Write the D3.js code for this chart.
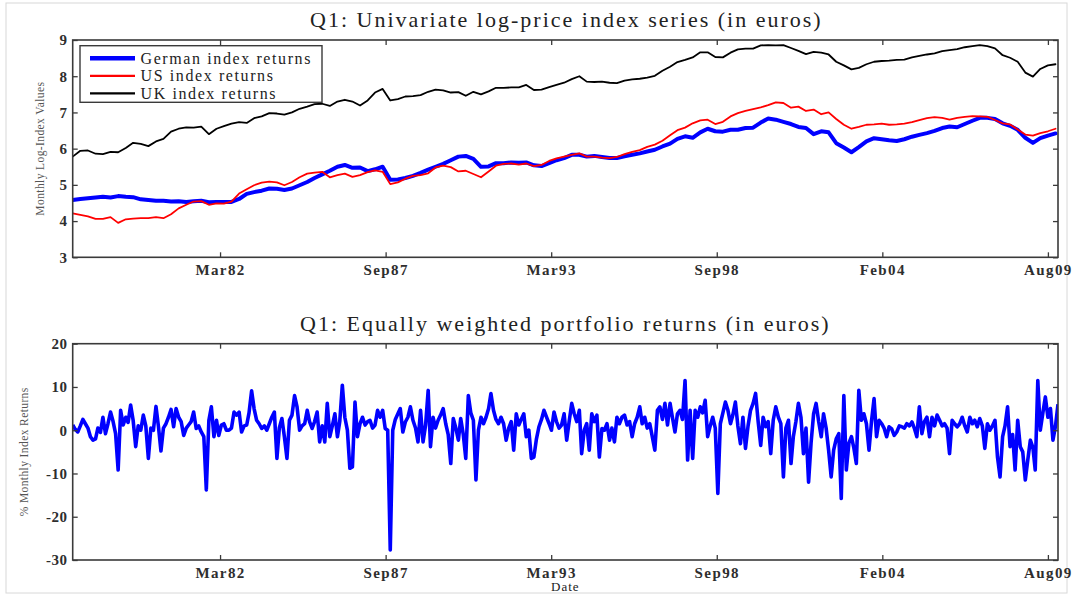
<!DOCTYPE html>
<html>
<head>
<meta charset="utf-8">
<script src="https://cdn.jsdelivr.net/npm/d3@7"></script>
<style>
  html, body { margin: 0; padding: 0; background: #fff; }
  svg { display: block; }
  text { font-family: "Liberation Serif", "DejaVu Serif", serif; }
</style>
</head>
<body>
<svg id="chart" width="1073" height="595"></svg>
<script>
// Monthly series start in May 1977 (mid-month dates)
const seriesStart = new Date(1977, 4, 15);
const seriesEnd = new Date(2009, 11, 15);

// Log-price index levels, sampled every 3 months from May 1977
const germanLog = [
  4.58, 4.61, 4.63, 4.65, 4.67, 4.65, 4.69, 4.67, 4.66, 4.60, 4.58, 4.56,
  4.56, 4.54, 4.55, 4.53, 4.55, 4.56, 4.52, 4.53, 4.53, 4.53, 4.61, 4.75,
  4.80, 4.84, 4.90, 4.89, 4.86, 4.90, 4.99, 5.08, 5.19, 5.29, 5.39, 5.50,
  5.55, 5.47, 5.48, 5.38, 5.43, 5.50, 5.14, 5.15, 5.19, 5.25, 5.33, 5.42,
  5.50, 5.58, 5.68, 5.78, 5.80, 5.72, 5.50, 5.51, 5.60, 5.60, 5.62, 5.61,
  5.62, 5.54, 5.52, 5.60, 5.68, 5.74, 5.83, 5.83, 5.78, 5.80, 5.77, 5.74,
  5.74, 5.79, 5.83, 5.87, 5.92, 5.97, 6.06, 6.14, 6.27, 6.34, 6.30, 6.45,
  6.55, 6.48, 6.47, 6.52, 6.52, 6.57, 6.58, 6.72, 6.83, 6.80, 6.74, 6.68,
  6.60, 6.57, 6.40, 6.48, 6.45, 6.15, 6.03, 5.90, 6.04, 6.20, 6.29, 6.26,
  6.23, 6.21, 6.26, 6.33, 6.38, 6.43, 6.49, 6.57, 6.61, 6.59, 6.68, 6.77,
  6.85, 6.85, 6.82, 6.70, 6.63, 6.52, 6.30, 6.16, 6.29, 6.36, 6.42
];
const usLog = [
  4.21, 4.17, 4.13, 4.06, 4.06, 4.11, 3.95, 4.05, 4.07, 4.08, 4.08, 4.11,
  4.08, 4.19, 4.35, 4.45, 4.54, 4.55, 4.45, 4.49, 4.48, 4.54, 4.76, 4.88,
  4.99, 5.06, 5.09, 5.07, 4.99, 5.08, 5.21, 5.31, 5.34, 5.36, 5.21, 5.27,
  5.31, 5.22, 5.27, 5.35, 5.40, 5.36, 5.02, 5.07, 5.17, 5.25, 5.27, 5.32,
  5.48, 5.53, 5.49, 5.37, 5.39, 5.30, 5.21, 5.37, 5.53, 5.58, 5.59, 5.56,
  5.59, 5.52, 5.55, 5.66, 5.73, 5.78, 5.83, 5.87, 5.78, 5.78, 5.75, 5.74,
  5.77, 5.85, 5.91, 5.96, 6.05, 6.11, 6.22, 6.37, 6.51, 6.58, 6.70, 6.78,
  6.80, 6.68, 6.74, 6.89, 6.98, 7.04, 7.09, 7.14, 7.20, 7.28, 7.26, 7.13,
  7.16, 7.04, 7.08, 6.95, 7.00, 6.82, 6.66, 6.55, 6.60, 6.66, 6.67, 6.69,
  6.66, 6.67, 6.69, 6.73, 6.79, 6.84, 6.87, 6.85, 6.80, 6.85, 6.88, 6.90,
  6.89, 6.88, 6.79, 6.70, 6.67, 6.53, 6.39, 6.36, 6.43, 6.48, 6.55
];
const ukLog = [
  5.78, 5.94, 5.95, 5.86, 5.85, 5.91, 5.90, 6.02, 6.16, 6.13, 6.07, 6.20,
  6.27, 6.47, 6.55, 6.59, 6.58, 6.61, 6.40, 6.55, 6.62, 6.69, 6.73, 6.71,
  6.84, 6.89, 6.98, 6.97, 6.94, 7.00, 7.10, 7.16, 7.23, 7.24, 7.18, 7.30,
  7.35, 7.30, 7.19, 7.33, 7.55, 7.65, 7.33, 7.37, 7.44, 7.45, 7.48, 7.57,
  7.63, 7.61, 7.55, 7.56, 7.46, 7.57, 7.50, 7.58, 7.68, 7.68, 7.69, 7.69,
  7.76, 7.62, 7.63, 7.70, 7.76, 7.82, 7.92, 8.00, 7.85, 7.84, 7.85, 7.82,
  7.81, 7.88, 7.91, 7.93, 7.96, 8.01, 8.15, 8.26, 8.39, 8.45, 8.52, 8.66,
  8.66, 8.53, 8.52, 8.65, 8.74, 8.76, 8.76, 8.85, 8.86, 8.85, 8.86, 8.78,
  8.70, 8.61, 8.67, 8.65, 8.60, 8.40, 8.30, 8.19, 8.23, 8.33, 8.40, 8.42,
  8.43, 8.45, 8.46, 8.52, 8.56, 8.60, 8.63, 8.69, 8.72, 8.75, 8.80, 8.83,
  8.86, 8.83, 8.77, 8.58, 8.51, 8.40, 8.10, 7.99, 8.20, 8.30, 8.33
];

// Equally weighted portfolio returns (%), one value per month from May 1977
const portfolioReturns = [
  1.2, 0.2, -0.4, 1.0, 2.5, 1.5, 0.5, -1.5, -2.3, -2.0, 0.5, -0.5,
  3.0, -0.8, 1.5, 4.2, 2.0, -0.8, -9.2, 4.6, 1.2, 3.0, 1.8, 5.8,
  2.3, -3.8, 1.0, 0.0, 3.5, 1.0, -6.5, 0.5, 0.0, 5.5, 1.0, -4.8,
  0.5, 1.5, 3.0, 4.8, 0.8, 5.0, 3.0, 2.0, -1.2, 0.5, 1.2, 2.0,
  4.2, 0.4, 1.0, -0.4, -1.5, -13.8, 2.3, 5.4, -1.5, 2.3, -1.2, 1.2,
  1.5, 0.0, 0.0, 0.5, 4.2, 3.5, 4.2, -0.4, 1.0, 1.2, 4.0, 9.1,
  5.0, 2.3, 1.5, 0.4, 1.0, 0.0, 1.5, 3.0, 4.2, -6.5, 0.5, 2.7,
  -1.5, -6.5, 2.3, 3.5, 8.0, 5.4, 0.0, 1.0, 1.5, 4.6, 2.0, 0.4,
  2.0, 4.2, -2.7, 1.0, -2.7, 6.2, -1.5, 1.0, 3.8, -1.5, 2.0, 10.4,
  3.0, 0.0, -8.8, -8.5, 6.5, -1.5, 1.5, 3.0, 1.2, 2.0, 2.3, 0.5,
  1.2, 4.6, 3.0, 4.6, 0.4, 0.0, -27.7, 0.0, 2.5, 3.8, 5.0, -0.4,
  1.9, 3.0, 5.4, 2.3, 0.5, -2.7, 4.6, -2.7, 1.2, 9.2, -3.8, 3.0,
  0.5, 2.3, 3.5, 5.0, 1.5, -1.0, -7.7, 2.7, 0.5, -2.3, 2.7, -1.0,
  -6.5, 8.0, 4.0, 2.3, -11.5, 0.0, 3.0, 1.5, 3.0, 5.0, 8.5, 4.6,
  2.5, 1.5, 3.0, 1.5, -2.3, 0.4, 2.0, -4.6, 3.8, 1.2, 2.5, 3.8,
  -1.5, 0.0, -6.5, -6.2, -2.0, 0.8, 2.5, 4.6, 3.0, 1.5, 0.0, 4.2,
  2.0, 0.5, 1.2, 3.8, -2.3, 2.0, 6.2, 3.8, 2.0, 4.6, -5.4, 0.0,
  1.5, -4.6, 3.8, 2.0, 3.5, -6.2, 0.4, 0.0, 1.5, -2.3, 0.5, -2.7,
  3.0, 1.5, 3.0, 3.5, 1.2, 2.0, -1.5, 1.5, 3.0, 5.4, 1.5, 3.0,
  0.5, 1.5, -1.5, -4.6, 4.6, 5.4, 2.5, 6.2, 1.2, 6.2, 3.0, -0.4,
  3.8, 4.6, 2.5, 11.5, -6.9, 4.6, -6.5, 4.6, 3.0, 5.4, 4.0, 6.9,
  -1.5, 1.0, 3.0, 0.5, -14.6, 1.5, 4.0, 6.5, 4.6, 1.5, 3.5, 6.5,
  1.0, -3.1, 3.0, -4.2, 1.0, 4.6, 6.2, 8.5, 2.0, -3.5, 3.0, 0.8,
  2.0, -5.4, 2.3, 5.4, 3.0, 1.5, -10.8, 0.5, 2.3, -7.7, -1.5, 2.0,
  6.2, 3.0, -5.4, 0.5, -12.0, -3.0, 3.8, 6.2, 2.0, -1.5, 3.8, 0.5,
  -4.6, -10.8, -4.6, -2.0, -0.8, -15.8, 8.0, -9.2, -3.0, -1.5, -4.0, -7.7,
  9.2, 2.3, 3.8, 1.5, -4.6, 2.0, 7.3, -1.5, 2.3, 1.5, 0.5, -1.5,
  0.8, 0.3, -1.2, -0.4, 1.0, 0.8, 0.5, 1.5, 1.0, 1.9, 0.5, -1.5,
  5.4, -0.8, 2.0, 3.0, -1.5, 3.0, 1.0, 3.5, 2.3, 1.0, 1.5, 0.5,
  -5.4, 2.3, 1.5, 0.8, 1.5, 3.0, 1.0, -0.4, 3.0, 1.5, 2.3, 0.8,
  2.7, 1.0, -4.2, 1.5, 0.0, 1.0, 2.3, -6.2, -10.8, -1.5, 1.0, 5.4,
  -3.8, -1.0, -9.2, 2.3, -3.8, -5.0, -11.5, -6.9, -2.3, -4.0, -9.2, 11.5,
  0.0, 4.0, 7.7, 3.0, 5.0, -2.3, 1.0, 6.0
];

// Date ticks: one every 2000 days from late March 1982
const firstTick = new Date(1982, 2, 30);
const tickStepDays = 2000;
const xTickLabels = ["Mar82", "Sep87", "Mar93", "Sep98", "Feb04", "Aug09"];
const logTicks = [3, 4, 5, 6, 7, 8, 9];
const returnTicks = [-30, -20, -10, 0, 10, 20];

const legendNames = ["German index returns", "US index returns", "UK index returns"];
const seriesColors = ["#0000ff", "#ff0000", "#000000"];
const seriesWidths = [4, 1.8, 1.8];

const svg = d3.select("#chart");
const W = 1073, H = 595;

svg.append("rect").attr("x", 0).attr("y", 0).attr("width", W).attr("height", H).attr("fill", "#fff");
svg.append("rect").attr("x", 6).attr("y", 3).attr("width", W - 12).attr("height", H - 5)
  .attr("fill", "none").attr("stroke", "#d8d8d8").attr("stroke-width", 1);

const plotLeft = 72.7, plotRight = 1058;
const topPanel = { top: 40, bottom: 257.3 };
const botPanel = { top: 343.7, bottom: 560 };

const x = d3.scaleTime().domain([seriesStart, seriesEnd]).range([plotLeft, plotRight]);
const yTop = d3.scaleLinear().domain([3, 9]).range([topPanel.bottom, topPanel.top]);
const yBot = d3.scaleLinear().domain([-30, 20]).range([botPanel.bottom, botPanel.top]);

const tickDates = xTickLabels.map((_, k) => d3.timeDay.offset(firstTick, k * tickStepDays));
const labelFor = new Map(tickDates.map((d, k) => [+d, xTickLabels[k]]));

const axisColor = "#3a3a3a";

function drawFrame(panel, yScale, yTicks, yLabel, yLabelX) {
  const g = svg.append("g");
  // bottom axis with labels, ticks pointing into the plot
  const xb = g.append("g").attr("transform", `translate(0,${panel.bottom})`)
    .call(d3.axisBottom(x).tickValues(tickDates).tickSizeInner(-5).tickSizeOuter(0)
      .tickPadding(7).tickFormat(d => labelFor.get(+d)));
  // top axis: ticks only
  const xt = g.append("g").attr("transform", `translate(0,${panel.top})`)
    .call(d3.axisTop(x).tickValues(tickDates).tickSizeInner(-5).tickSizeOuter(0).tickFormat(""));
  // left axis with labels
  const yl = g.append("g").attr("transform", `translate(${plotLeft},0)`)
    .call(d3.axisLeft(yScale).tickValues(yTicks).tickSizeInner(-5).tickSizeOuter(0)
      .tickPadding(5).tickFormat(d => String(d)));
  // right axis: ticks only
  const yr = g.append("g").attr("transform", `translate(${plotRight},0)`)
    .call(d3.axisRight(yScale).tickValues(yTicks).tickSizeInner(-5).tickSizeOuter(0).tickFormat(""));
  [xb, xt, yl, yr].forEach(a => {
    a.select(".domain").remove();
    a.selectAll(".tick line").attr("stroke", axisColor).attr("stroke-width", 1.3);
    a.selectAll(".tick text").attr("fill", "#2e2e2e").attr("font-size", 15)
      .attr("font-family", "Liberation Serif, serif").attr("font-weight", "bold");
  });
  xb.selectAll(".tick text").attr("letter-spacing", 1.4);
  yl.selectAll(".tick text").attr("letter-spacing", 0.6);
  g.append("rect").attr("x", plotLeft).attr("y", panel.top)
    .attr("width", plotRight - plotLeft).attr("height", panel.bottom - panel.top)
    .attr("fill", "none").attr("stroke", axisColor).attr("stroke-width", 1.6);
  g.append("text")
    .attr("transform", `translate(${yLabelX},${(panel.top + panel.bottom) / 2}) rotate(-90)`)
    .attr("text-anchor", "middle").attr("font-size", 11.5).attr("letter-spacing", 0.4)
    .attr("fill", "#555").text(yLabel);
}

function clipFor(id, panel) {
  svg.append("clipPath").attr("id", id).append("rect")
    .attr("x", plotLeft).attr("y", panel.top)
    .attr("width", plotRight - plotLeft).attr("height", panel.bottom - panel.top);
}
clipFor("clipTop", topPanel);
clipFor("clipBot", botPanel);

// ---- Top panel: log-price index series
const quarterDates = germanLog.map((_, k) => d3.timeMonth.offset(seriesStart, 3 * k));
const logSeries = [germanLog, usLog, ukLog];
const lineTop = d3.line().x((d, k) => x(quarterDates[k])).y(d => yTop(d));
const gTop = svg.append("g").attr("clip-path", "url(#clipTop)");
logSeries.forEach((s, n) => {
  gTop.append("path").datum(s).attr("d", lineTop)
    .attr("fill", "none").attr("stroke", seriesColors[n]).attr("stroke-width", seriesWidths[n])
    .attr("stroke-linejoin", "round").attr("stroke-linecap", "round");
});
drawFrame(topPanel, yTop, logTicks, "Monthly Log-Index Values", 44);

svg.append("text").attr("x", (plotLeft + plotRight) / 2 + 1).attr("y", 27)
  .attr("text-anchor", "middle").attr("font-size", 22).attr("letter-spacing", 2)
  .attr("fill", "#222")
  .text("Q1: Univariate log-price index series (in euros)");

// legend
const leg = svg.append("g");
leg.append("rect").attr("x", 80).attr("y", 45.7).attr("width", 242).attr("height", 56.6)
  .attr("fill", "#fff").attr("stroke", axisColor).attr("stroke-width", 1.4);
legendNames.forEach((name, n) => {
  const yy = 58.3 + n * 17.5;
  leg.append("line").attr("x1", 90).attr("x2", 135).attr("y1", yy).attr("y2", yy)
    .attr("stroke", seriesColors[n]).attr("stroke-width", seriesWidths[n] + (n === 0 ? 0.5 : 0.4));
  leg.append("text").attr("x", 140.5).attr("y", yy).attr("dy", "0.35em")
    .attr("font-size", 16).attr("letter-spacing", 1.6).attr("fill", "#222").text(name);
});

// ---- Bottom panel: equally weighted portfolio returns
const monthDates = portfolioReturns.map((_, i) => d3.timeMonth.offset(seriesStart, i));
const lineBot = d3.line().x((d, i) => x(monthDates[i])).y(d => yBot(d));
svg.append("g").attr("clip-path", "url(#clipBot)")
  .append("path").datum(portfolioReturns).attr("d", lineBot)
  .attr("fill", "none").attr("stroke", "#0000ff").attr("stroke-width", 3.6)
  .attr("stroke-linejoin", "round");
drawFrame(botPanel, yBot, returnTicks, "% Monthly Index Returns", 28);

svg.append("text").attr("x", (plotLeft + plotRight) / 2).attr("y", 331)
  .attr("text-anchor", "middle").attr("font-size", 22).attr("letter-spacing", 2)
  .attr("fill", "#222")
  .text("Q1: Equally weighted portfolio returns (in euros)");

svg.append("text").attr("x", (plotLeft + plotRight) / 2).attr("y", 591)
  .attr("text-anchor", "middle").attr("font-size", 13).attr("letter-spacing", 1)
  .attr("fill", "#222").text("Date");
</script>
</body>
</html>
